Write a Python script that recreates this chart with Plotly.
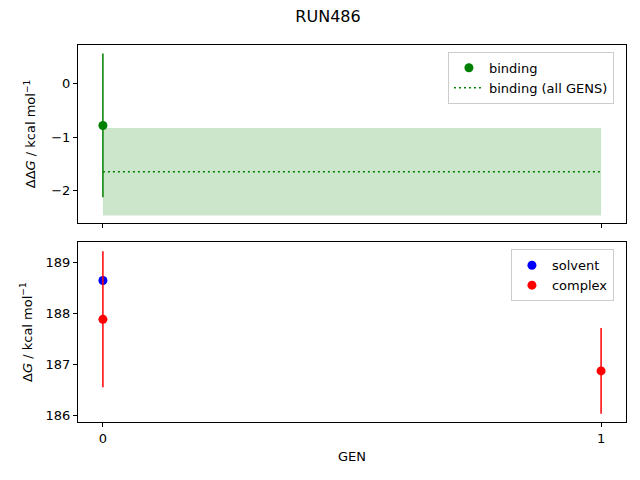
import plotly.graph_objects as go
from plotly.subplots import make_subplots

# data
binding_gens = [0]
binding = [-0.78]
binding_err = [1.35]

all_gens = [0, 1]
binding_all = -1.65
binding_all_err = 0.82

solvent_gens = [0]
solvent = [188.65]
solvent_err = [0.0]

complex_gens = [0, 1]
complex_dg = [187.89, 186.88]
complex_err = [1.33, 0.84]

green = "green"
font = "DejaVu Sans"

fig = make_subplots(rows=2, cols=1, shared_xaxes=True, vertical_spacing=0.05)

fig.add_trace(go.Scatter(x=binding_gens, y=binding, mode="markers", name="binding",
                         marker=dict(color=green, size=9),
                         error_y=dict(type="data", array=binding_err, color=green,
                                      thickness=1.5, width=0),
                         legend="legend", legendrank=1), row=1, col=1)

# band for the all-GENS estimate
fig.add_trace(go.Scatter(x=all_gens, y=[binding_all - binding_all_err] * len(all_gens),
                         mode="lines", line=dict(width=0), showlegend=False,
                         hoverinfo="skip"), row=1, col=1)
fig.add_trace(go.Scatter(x=all_gens, y=[binding_all + binding_all_err] * len(all_gens),
                         mode="lines", line=dict(width=0), fill="tonexty",
                         fillcolor="rgba(0,128,0,0.2)", showlegend=False,
                         hoverinfo="skip"), row=1, col=1)

fig.add_trace(go.Scatter(x=all_gens, y=[binding_all] * len(all_gens), mode="lines",
                         name="binding (all GENS)",
                         line=dict(color=green, dash="2px,3px", width=1.5),
                         legend="legend", legendrank=2), row=1, col=1)

fig.add_trace(go.Scatter(x=solvent_gens, y=solvent, mode="markers", name="solvent",
                         marker=dict(color="blue", size=9),
                         error_y=dict(type="data", array=solvent_err, color="blue",
                                      thickness=1.5, width=0),
                         legend="legend2", legendrank=1), row=2, col=1)
fig.add_trace(go.Scatter(x=complex_gens, y=complex_dg, mode="markers", name="complex",
                         marker=dict(color="red", size=9),
                         error_y=dict(type="data", array=complex_err, color="red",
                                      thickness=1.5, width=0),
                         legend="legend2", legendrank=2), row=2, col=1)

axis_style = dict(showline=True, linecolor="black", linewidth=1, mirror=True,
                  ticks="outside", ticklen=4, tickcolor="black", showgrid=False,
                  zeroline=False, tickfont=dict(size=13, color="black"))

fig.update_xaxes(**axis_style, range=[-0.05, 1.05], tickvals=[0, 1])
fig.update_xaxes(showticklabels=False, row=1, col=1)
fig.update_xaxes(title=dict(text="GEN", standoff=7, font=dict(size=13)), row=2, col=1)

fig.update_yaxes(**axis_style)
fig.update_yaxes(range=[-2.61, 0.73], tickvals=[-2, -1, 0], ticktext=["\u22122", "\u22121", "0"],
                 title=dict(text="\u0394\u0394<i>G</i> / kcal mol<sup>\u22121</sup>",
                            standoff=12, font=dict(size=13)),
                 domain=[0.528, 1.0], row=1, col=1)
fig.update_yaxes(range=[185.88, 189.4], tickvals=[186, 187, 188, 189],
                 title=dict(text="\u0394<i>G</i> / kcal mol<sup>\u22121</sup>",
                            standoff=10, font=dict(size=13)),
                 domain=[0.0, 0.477], row=2, col=1)

legend_style = dict(bgcolor="rgba(255,255,255,0.8)", bordercolor="#cccccc", borderwidth=1,
                    xanchor="right", yanchor="top", traceorder="normal",
                    font=dict(size=13, color="black"))

# the page puts the figure 8px in from the top-left corner
fig.update_layout(
    width=640, height=480,
    margin=dict(l=70, r=22, t=37, b=66),
    paper_bgcolor="white", plot_bgcolor="white",
    font=dict(family=font, color="black"),
    title=dict(text="RUN486", x=0.5, xanchor="center", y=0.983, yanchor="middle",
               font=dict(size=16)),
    legend=dict(x=0.978, y=0.982, **legend_style),
    legend2=dict(x=0.978, y=0.458, **legend_style),
)

fig.write_html("out.html")
